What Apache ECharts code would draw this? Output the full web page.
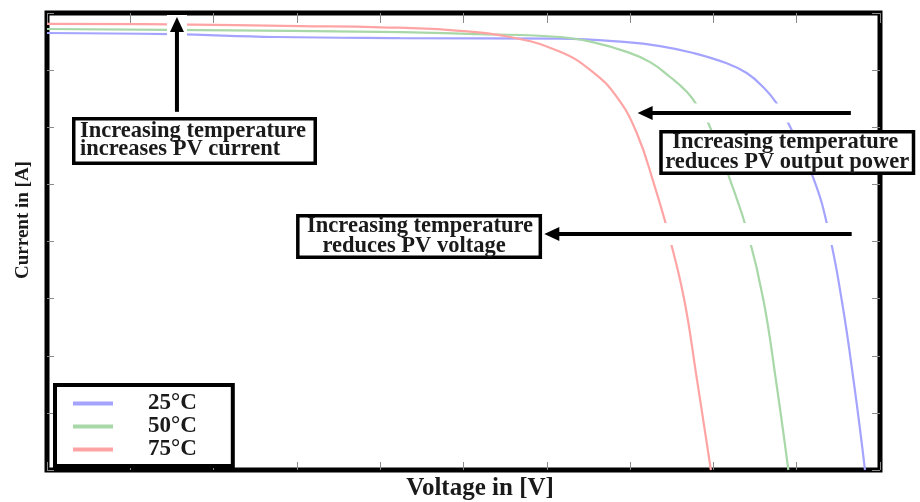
<!DOCTYPE html>
<html>
<head>
<meta charset="utf-8">
<script src="https://cdn.jsdelivr.net/npm/echarts@6/dist/echarts.min.js"></script>
<style>
  html, body { margin: 0; padding: 0; background: #fff; }
  #chart { width: 920px; height: 502px; }
</style>
</head>
<body>
<div id="chart"></div>
<script>
// I-V curves of a PV module at three cell temperatures
const seriesNames = ['25°C', '50°C', '75°C'];

const voltage25 = [0, 1.48, 2.74, 4.24, 6.16, 6.96, 7.36, 7.76, 8.16, 8.40, 8.60, 8.76, 8.90, 9.20, 9.38, 9.54, 9.69, 9.82];
const current25 = [7.65, 7.63, 7.58, 7.56, 7.55, 7.49, 7.42, 7.30, 7.12, 6.95, 6.70, 6.42, 6.07, 5.11, 4.20, 2.98, 1.49, 0];

const voltage50 = [0, 1.84, 4.00, 5.20, 6.16, 6.55, 6.96, 7.24, 7.48, 7.68, 7.80, 7.94, 8.20, 8.42, 8.60, 8.75, 8.90];
const current50 = [7.72, 7.70, 7.67, 7.63, 7.58, 7.49, 7.32, 7.14, 6.88, 6.62, 6.39, 6.07, 5.08, 4.11, 2.98, 1.58, 0];

const voltage75 = [0, 1.48, 3.04, 4.00, 4.84, 5.56, 6.16, 6.55, 6.84, 7.08, 7.29, 7.48, 7.65, 7.80, 7.97];
const current75 = [7.81, 7.80, 7.77, 7.75, 7.70, 7.58, 7.32, 6.97, 6.53, 5.90, 4.99, 4.03, 2.98, 1.61, 0];

const xAxisTitle = 'Voltage in [V]';
const yAxisTitle = 'Current in [A]';

const noteCurrentLines = ['Increasing temperature', 'increases PV current'];
const notePowerLines = ['Increasing temperature', 'reduces PV output power'];
const noteVoltageLines = ['Increasing temperature', 'reduces PV voltage'];

const voltages = [voltage25, voltage50, voltage75];
const currents = [current25, current50, current75];
const lineColors = ['#a4a4ff', '#a8d8a8', '#ffa4a4'];

const serifBold = { fontFamily: 'Liberation Serif', fontWeight: 'bold', color: '#1a1a1a' };

const chart = echarts.init(document.getElementById('chart'), null, { renderer: 'canvas' });

// frame axes: no labels, no line (the grid border is the frame), inward ticks only
function frameAxis(extra, tickLength) {
  return Object.assign({
    type: 'value',
    axisLine: { show: false, onZero: false },
    axisLabel: { show: false },
    splitLine: { show: false },
    axisTick: { show: true, inside: true, length: tickLength, lineStyle: { color: '#8a8a8a', width: 1 } }
  }, extra);
}

chart.setOption({
  animation: false,
  backgroundColor: '#fff',
  grid: {
    left: 47, right: 40, top: 13, bottom: 32,
    outerBoundsMode: 'none', containLabel: false,
    show: true, borderColor: '#000', borderWidth: 5, backgroundColor: 'transparent'
  },
  xAxis: [
    frameAxis({
      min: 0, max: 10, interval: 1, position: 'bottom',
      name: xAxisTitle, nameLocation: 'middle', nameGap: 6,
      nameTextStyle: Object.assign({ fontSize: 25, padding: [0, 0, 0, 33] }, serifBold)
    }, 8),
    frameAxis({ min: 0, max: 10, interval: 1, position: 'top' }, 10)
  ],
  yAxis: [
    frameAxis({
      min: 0, max: 8, interval: 1, position: 'left',
      name: yAxisTitle, nameLocation: 'middle', nameGap: 14,
      nameTextStyle: Object.assign({ fontSize: 19, padding: [0, 0, 0, 43] }, serifBold)
    }, 7),
    frameAxis({ min: 0, max: 8, interval: 1, position: 'right' }, 8)
  ],
  legend: {
    data: seriesNames,
    orient: 'vertical',
    left: 55, top: 385,
    backgroundColor: '#fff',
    borderColor: '#000', borderWidth: 4, borderRadius: 0,
    padding: [7, 36, 5, 18],
    itemGap: 0, itemWidth: 40, itemHeight: 4, icon: 'rect',
    textStyle: Object.assign({ fontSize: 23, lineHeight: 22, padding: [0, 0, 0, 30] }, serifBold)
  },
  series: seriesNames.map((name, i) => ({
    type: 'line',
    name: name,
    data: voltages[i].map((v, k) => [v, currents[i][k]]),
    showSymbol: false,
    symbol: 'none',
    smooth: 0.45,
    lineStyle: { color: lineColors[i], width: 2.2 },
    itemStyle: { color: lineColors[i] },
    z: 2 + i
  }))
});

// Annotation boxes and arrows, anchored in data space
const toPx = (pt) => chart.convertToPixel({ seriesIndex: 0 }, pt);

function arrow(fromData, toData, bandWidth) {
  const a = toPx(fromData), b = toPx(toData);
  const dx = b[0] - a[0], dy = b[1] - a[1];
  const len = Math.hypot(dx, dy);
  const ux = dx / len, uy = dy / len;
  const headLen = 15, headHalf = 7;
  const base = [b[0] - ux * headLen, b[1] - uy * headLen];
  return [
    { type: 'line', z: 10, silent: true,
      shape: { x1: a[0] - ux * 2, y1: a[1] - uy * 2, x2: b[0] + ux * 2, y2: b[1] + uy * 2 },
      style: { stroke: '#fff', lineWidth: bandWidth } },
    { type: 'line', z: 11, silent: true,
      shape: { x1: a[0], y1: a[1], x2: base[0] + ux * 2, y2: base[1] + uy * 2 },
      style: { stroke: '#000', lineWidth: 4 } },
    { type: 'polygon', z: 11, silent: true,
      shape: { points: [b, [base[0] - uy * headHalf, base[1] + ux * headHalf], [base[0] + uy * headHalf, base[1] - ux * headHalf]] },
      style: { fill: '#000' } }
  ];
}

function noteBox(lines, topLeftData, w, h, align, textX, lineCenters) {
  const p = toPx(topLeftData);
  const els = [{
    type: 'rect', z: 12, silent: true,
    shape: { x: p[0] + 1.75, y: p[1] + 1.75, width: w - 3.5, height: h - 3.5 },
    style: { fill: '#fff', stroke: '#000', lineWidth: 3.5 }
  }];
  lines.forEach((line, i) => {
    els.push({
      type: 'text', z: 13, silent: true,
      x: p[0] + textX[i], y: p[1] + lineCenters[i],
      style: {
        text: line, fill: '#1a1a1a',
        font: 'bold 22.5px "Liberation Serif"',
        align: align, verticalAlign: 'middle'
      }
    });
  });
  return els;
}

const graphics = [].concat(
  arrow([1.56, 6.27], [1.56, 7.93], 20),
  arrow([9.65, 6.25], [7.09, 6.25], 19),
  arrow([9.66, 4.13], [5.97, 4.13], 22),
  noteBox(noteCurrentLines, [0.30, 6.18], 245, 48, 'left', [8, 8], [14.5, 32.5]),
  noteBox(notePowerLines, [7.35, 5.95], 256, 45, 'center', [126, 128], [12, 32]),
  noteBox(noteVoltageLines, [2.99, 4.48], 246, 45, 'center', [124, 118], [12, 32])
);

chart.setOption({ graphic: graphics });
</script>
</body>
</html>
